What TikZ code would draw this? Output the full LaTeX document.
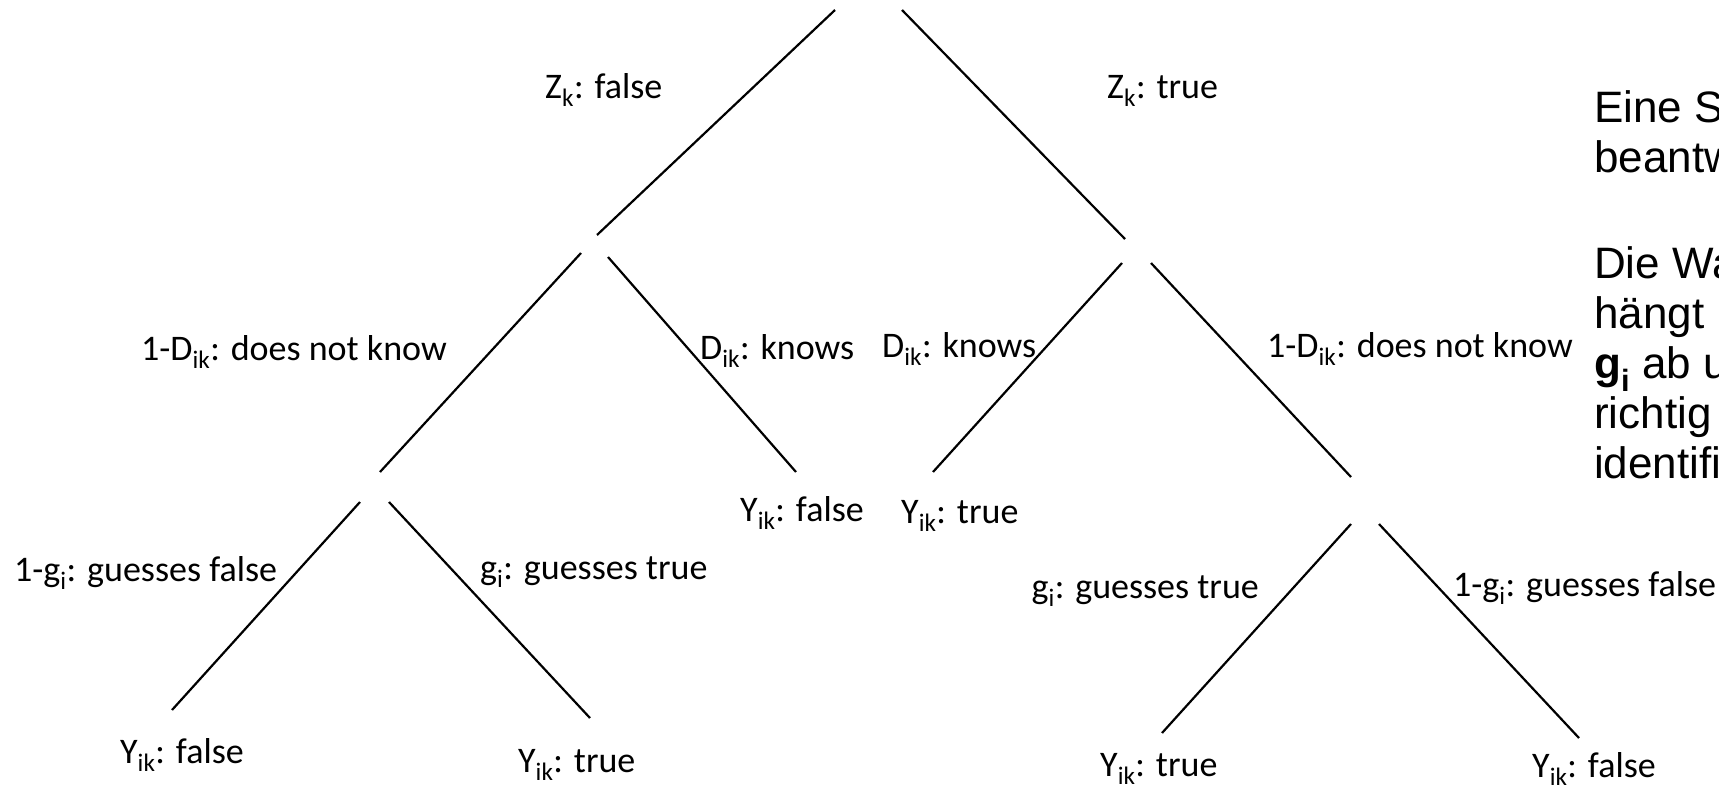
\documentclass[tikz,border=0pt]{standalone}
\usepackage{fontspec}
\setmainfont{Carlito}
\newfontfamily\arialfont{Liberation Sans}
\begin{document}
\begin{tikzpicture}[x=1pt,y=-1pt,
  branch/.style={line width=2.2pt, black},
  lbl/.style={inner sep=0pt, font=\fontsize{36}{43}\selectfont},
  note/.style={inner sep=0pt, anchor=base west, font=\arialfont\fontsize{44}{50}\selectfont}]
\useasboundingbox (0,0) rectangle (1719,790);
\clip (0,0) rectangle (1719,790);
% level 1
\coordinate (r1a) at (835,10);  \coordinate (r1b) at (597,235);
\coordinate (r2a) at (902,10);  \coordinate (r2b) at (1125,239);
% level 2
\coordinate (l3a) at (581,253); \coordinate (l3b) at (380,472);
\coordinate (l4a) at (608,257); \coordinate (l4b) at (796,472);
\coordinate (l5a) at (1122,263); \coordinate (l5b) at (933,472);
\coordinate (l6a) at (1151,263); \coordinate (l6b) at (1351,477);
% level 3
\coordinate (l7a) at (360,502); \coordinate (l7b) at (172,710);
\coordinate (l8a) at (389,502); \coordinate (l8b) at (590,718);
\coordinate (l9a) at (1351,524); \coordinate (l9b) at (1162,733);
\coordinate (l10a) at (1379,524); \coordinate (l10b) at (1579,738);

\draw[branch] (r1a) -- (r1b);
\draw[branch] (r2a) -- (r2b);
\draw[branch] (l3a) -- (l3b);
\draw[branch] (l4a) -- (l4b);
\draw[branch] (l5a) -- (l5b);
\draw[branch] (l6a) -- (l6b);
\draw[branch] (l7a) -- (l7b);
\draw[branch] (l8a) -- (l8b);
\draw[branch] (l9a) -- (l9b);
\draw[branch] (l10a) -- (l10b);

% labels
\node[lbl, anchor=base west] (zf) at (545,98) {Z\textsubscript{k}: false};
\node[lbl, anchor=base west] (zt) at (1107,98) {Z\textsubscript{k}: true};
\node[lbl, anchor=base east] (dnl) at (447,360) {1-D\textsubscript{ik}: does not know};
\node[lbl, anchor=base west] (dkl) at (700,359) {D\textsubscript{ik}: knows};
\node[lbl, anchor=base west] (dkr) at (882,357) {D\textsubscript{ik}: knows};
\node[lbl, anchor=base west] (dnr) at (1267,357) {1-D\textsubscript{ik}: does not know};
\node[lbl, anchor=base west] (yfm) at (740,521) {Y\textsubscript{ik}: false};
\node[lbl, anchor=base west] (ytm) at (901,523) {Y\textsubscript{ik}: true};
\node[lbl, anchor=base west] (gfl) at (14,581) {1-g\textsubscript{i}: guesses false};
\node[lbl, anchor=base west] (gtl) at (480,579) {g\textsubscript{i}: guesses true};
\node[lbl, anchor=base east] (gtr) at (1259,598) {g\textsubscript{i}: guesses true};
\node[lbl, anchor=base west] (gfr) at (1453,596) {1-g\textsubscript{i}: guesses false};
\node[lbl, anchor=base west] (yf1) at (120,763) {Y\textsubscript{ik}: false};
\node[lbl, anchor=base west] (yt1) at (518,772) {Y\textsubscript{ik}: true};
\node[lbl, anchor=base west] (yt2) at (1100,776) {Y\textsubscript{ik}: true};
\node[lbl, anchor=base west] (yf2) at (1532,777) {Y\textsubscript{ik}: false};

% side text (cut at the right edge)
\node[note] (t1) at (1594,122) {Eine S};
\node[note] (t2) at (1594,172) {beantw};
\node[note] (t3) at (1594,278) {Die Wa};
\node[note] (t4) at (1594,328) {hängt};
\node[note] (t5) at (1594,378) {\textbf{g\textsubscript{i}} ab u};
\node[note] (t6) at (1594,428) {richtig};
\node[note] (t7) at (1594,478) {identifi};
\end{tikzpicture}
\end{document}
